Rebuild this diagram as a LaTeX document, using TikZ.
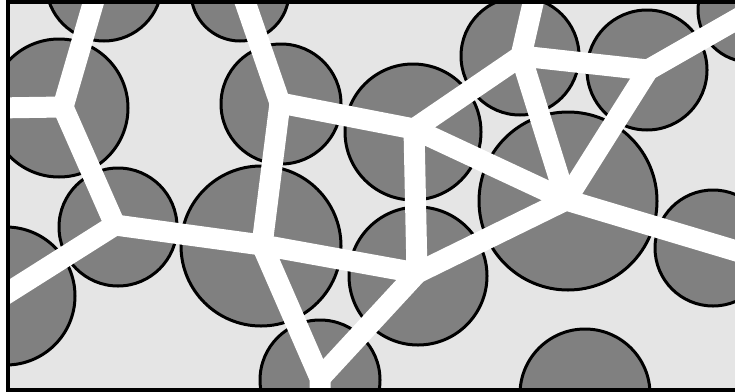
\documentclass[tikz,border=0pt]{standalone}
\usetikzlibrary{calc}
\definecolor{bggray}{HTML}{E5E5E5}
\definecolor{grain}{HTML}{808080}
\tikzset{
  grainc/.style={fill=grain,draw=black,line width=3pt},
  pore/.style={draw=white,line width=21pt,line cap=round,line join=miter},
  frame/.style={draw=black,line width=4pt}
}
\begin{document}
\begin{tikzpicture}[x=1pt,y=-1pt]
\useasboundingbox (0,0) rectangle (735,391);
\coordinate (fa) at (8,2);
\coordinate (fb) at (780,389.5);
\begin{scope}
\clip (fa) rectangle (fb);
\fill[bggray] (fa) rectangle (fb);
% grains
\draw[grainc] (104,-17) circle[radius=58pt];
\draw[grainc] (59,108) circle[radius=69pt];
\draw[grainc] (240,-8) circle[radius=49pt];
\draw[grainc] (281,104) circle[radius=60pt];
\draw[grainc] (6,296) circle[radius=69pt];
\draw[grainc] (118,227) circle[radius=59pt];
\draw[grainc] (261,246) circle[radius=80pt];
\draw[grainc] (320,380) circle[radius=60pt];
\draw[grainc] (413,132) circle[radius=68pt];
\draw[grainc] (520,56) circle[radius=59pt];
\draw[grainc] (647,70) circle[radius=60pt];
\draw[grainc] (750,10) circle[radius=52pt];
\draw[grainc] (418,276) circle[radius=69pt];
\draw[grainc] (568,201) circle[radius=89pt];
\draw[grainc] (713,248) circle[radius=58pt];
\draw[grainc] (585,394) circle[radius=65pt];
% network vertices
\coordinate (A) at (63,107);
\coordinate (B) at (115,225);
\coordinate (C) at (262,245);
\coordinate (D) at (280,103);
\coordinate (E) at (320,378);
\coordinate (F) at (417,273);
\coordinate (G) at (414,129);
\coordinate (H) at (566,200);
\coordinate (I) at (521,56);
\coordinate (J) at (648,70);
% free ends
\coordinate (eA1) at (-5,108);
\coordinate (eA2) at (97,-10);
\coordinate (eB) at (-10,304);
\coordinate (eD) at (241,-10);
\coordinate (eE) at (320,410);
\coordinate (eI) at (536,-10);
\coordinate (eJ) at (760,6);
\coordinate (eH) at (780,264);
% pores
\draw[pore] (eA1) -- (A) -- (eA2);
\draw[pore] (A) -- (B) -- (eB);
\draw[pore] (B) -- (C) -- (D) -- (eD);
\draw[pore] (D) -- (G) -- (F);
\draw[pore] (C) -- (F);
\draw[pore] (C) -- (E) -- (eE);
\draw[pore] (E) -- (F) -- (H);
\draw[pore] (G) -- (H) -- (eH);
\draw[pore] (G) -- (I) -- (eI);
\draw[pore] (I) -- (J) -- (eJ);
\draw[pore] (I) -- (H);
\draw[pore] (J) -- (H);
\end{scope}
\draw[frame] (fa) rectangle (fb);
\end{tikzpicture}
\end{document}
